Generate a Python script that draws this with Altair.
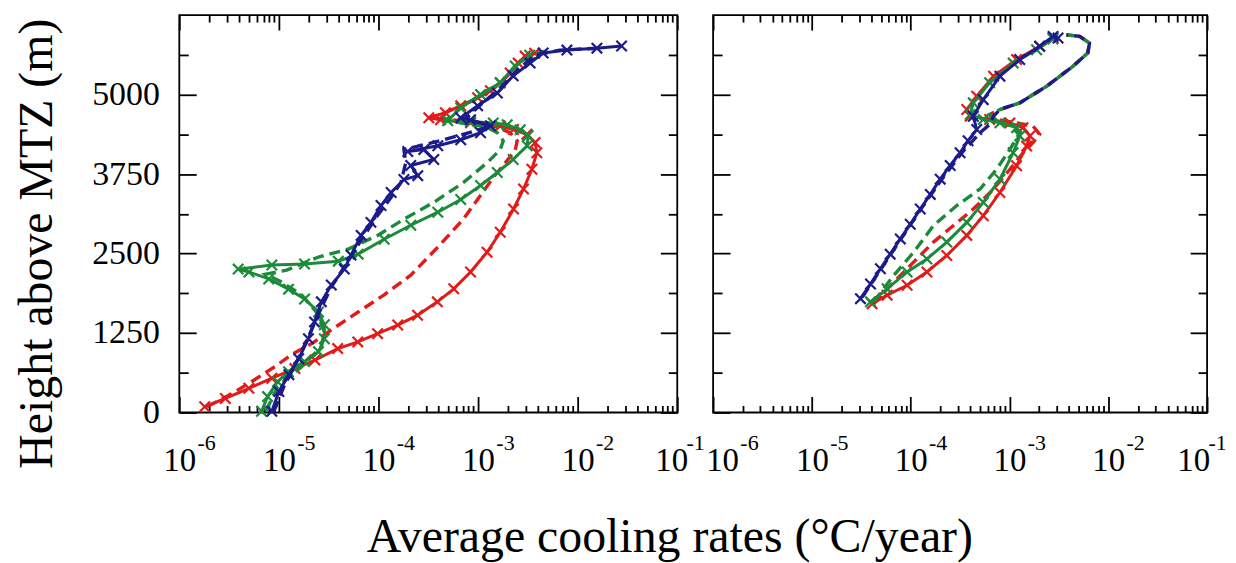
import altair as alt
import pandas as pd

FONT = "Liberation Serif"
SERIES = ["red", "green", "blue"]
COLORS = ["#e31a1a", "#1c8a3a", "#1b1b8c"]

X_DECADES = [1e-6, 1e-5, 1e-4, 1e-3, 1e-2, 1e-1]
X_TICK_BASE = "10"
X_TICK_EXP = ["-6", "-5", "-4", "-3", "-2", "-1"]
Y_TICKS = [0, 1250, 2500, 3750, 5000]
Y_MINOR = [625, 1875, 3125, 4375, 5625]
Y_TITLE = "Height above MTZ (m)"
X_TITLE = "Average cooling rates (°C/year)"

# ---------------- left panel ----------------
L_RED_SOLID_RATE = [1.8e-6, 2.9e-6, 5.0e-6, 8.5e-6, 1.45e-5, 2.3e-5, 3.9e-5, 6.2e-5, 9.8e-5, 1.56e-4, 2.47e-4, 3.9e-4,
                    5.7e-4, 8.4e-4, 1.23e-3, 1.67e-3, 2.27e-3, 2.86e-3, 3.47e-3, 3.89e-3, 3.74e-3, 3.09e-3, 2.27e-3,
                    1.67e-3, 8.4e-4, 4.2e-4, 3.2e-4, 4.7e-4, 6.7e-4, 9.9e-4, 1.33e-3, 1.67e-3, 2.1e-3, 2.53e-3,
                    2.97e-3, 3.7e-3]
L_RED_SOLID_H = [90, 220, 380, 540, 690, 825, 1005, 1110, 1240, 1375, 1530, 1740, 1945, 2210, 2520, 2835, 3200, 3515,
                 3825, 4085, 4245, 4375, 4450, 4505, 4555, 4605, 4635, 4715, 4825, 4950, 5060, 5185, 5340, 5495, 5605,
                 5650]
L_RED_DASHED_RATE = [1.9e-6, 3.4e-6, 5.7e-6, 9.1e-6, 1.34e-5, 2.12e-5, 3.36e-5, 6.25e-5, 1.14e-4, 2.11e-4, 3.94e-4,
                     7.1e-4, 1.06e-3, 1.42e-3, 1.88e-3, 2.36e-3, 2.47e-3, 2.1e-3, 1.49e-3, 8.4e-4, 3.2e-4, 4.7e-4,
                     6.7e-4, 9.9e-4, 1.33e-3, 1.67e-3, 2.1e-3, 2.53e-3, 2.97e-3]
L_RED_DASHED_H = [90, 300, 515, 720, 910, 1080, 1300, 1580, 1850, 2160, 2600, 3040, 3415, 3695, 3930, 4120, 4275, 4400,
                  4495, 4575, 4635, 4715, 4825, 4950, 5060, 5185, 5340, 5495, 5605]
L_GREEN_SOLID_RATE = [6.7e-6, 7.7e-6, 9.7e-6, 1.25e-5, 1.81e-5, 2.5e-5, 2.86e-5, 2.86e-5, 2.5e-5, 1.81e-5, 1.25e-5,
                      7.9e-6, 5.0e-6, 3.9e-6, 8.5e-6, 1.81e-5, 3.95e-5, 6.25e-5, 1.14e-4, 2.11e-4, 3.94e-4, 6.7e-4,
                      1.06e-3, 1.56e-3, 2.25e-3, 3.11e-3, 3.18e-3, 2.65e-3, 1.96e-3, 1.42e-3, 8.4e-4, 4.95e-4, 6.7e-4,
                      1.06e-3, 1.67e-3, 2.36e-3, 3.3e-3]
L_GREEN_SOLID_H = [20, 250, 485, 640, 800, 955, 1160, 1380, 1580, 1785, 1940, 2100, 2210, 2255, 2320, 2335, 2380, 2490,
                   2725, 2945, 3150, 3350, 3570, 3775, 3980, 4195, 4355, 4445, 4525, 4555, 4575, 4590, 4790, 5000, 5185,
                   5450, 5620]
L_GREEN_DASHED_RATE = [7.4e-6, 9.7e-6, 1.69e-5, 2.67e-5, 2.86e-5, 2.38e-5, 1.69e-5, 1.07e-5, 7.4e-6, 1.2e-5, 2.5e-5,
                       4.98e-5, 9.8e-5, 1.8e-4, 3.59e-4, 7.1e-4, 1.24e-3, 1.67e-3, 1.79e-3, 1.56e-3, 1.19e-3, 4.7e-4,
                       6.7e-4, 1.06e-3, 1.67e-3, 2.36e-3, 3.33e-3, 4.7e-3]
L_GREEN_DASHED_H = [20, 405, 720, 1035, 1270, 1580, 1850, 2050, 2175, 2240, 2445, 2570, 2785, 3040, 3305, 3615, 3930,
                    4135, 4275, 4400, 4495, 4590, 4790, 4995, 5185, 5450, 5620, 5685]
L_BLUE_SOLID_RATE = [8.5e-6, 1.0e-5, 1.26e-5, 1.58e-5, 1.98e-5, 2.28e-5, 2.67e-5, 3.36e-5, 4.54e-5, 5.3e-5, 6.7e-5,
                     8.4e-5, 1.06e-4, 1.34e-4, 1.8e-4, 2.48e-4, 2.11e-4, 3.59e-4, 2.85e-4, 1.97e-4, 3.94e-4, 6.7e-4,
                     1.06e-3, 1.33e-3, 8.4e-4, 6.7e-4, 9.9e-4, 1.56e-3, 2.25e-3, 3.33e-3, 4.5e-3, 7.8e-3, 1.56e-2,
                     2.76e-2]
L_BLUE_SOLID_H = [20, 330, 595, 845, 1160, 1425, 1740, 2005, 2255, 2475, 2785, 2990, 3255, 3460, 3665, 3725, 3885, 3980,
                  4135, 4105, 4195, 4290, 4400, 4510, 4605, 4635, 4825, 5025, 5295, 5495, 5655, 5700, 5730, 5765]
L_BLUE_DASHED_RATE = [8.9e-6, 1.12e-5, 1.51e-5, 1.98e-5, 2.55e-5, 3.36e-5, 4.75e-5, 6.7e-5, 9.5e-5, 1.34e-4, 1.68e-4,
                      1.88e-4, 1.8e-4, 4.2e-4, 9.4e-4, 1.33e-3, 7.5e-4, 1.06e-3, 1.67e-3, 2.47e-3, 3.74e-3, 6.6e-3,
                      1.67e-2]
L_BLUE_DASHED_H = [20, 405, 800, 1190, 1580, 1975, 2335, 2710, 3070, 3385, 3615, 3930, 4135, 4275, 4430, 4510, 4620,
                   4840, 5105, 5385, 5620, 5700, 5730]

# ---------------- right panel ----------------
R_RED_SOLID_RATE = [4.07e-5, 5.77e-5, 9.2e-5, 1.46e-4, 2.32e-4, 3.7e-4, 5.43e-4, 8.0e-4, 1.18e-3, 1.49e-3, 1.61e-3,
                    1.37e-3, 1.01e-3, 6.3e-4, 4.0e-4, 3.7e-4, 4.66e-4, 6.9e-4, 1.18e-3, 2.02e-3, 2.76e-3]
R_RED_SOLID_H = [1710, 1845, 2000, 2210, 2470, 2785, 3095, 3460, 3880, 4190, 4350, 4480, 4555, 4610, 4660, 4765, 4975,
                 5290, 5550, 5760, 5890]
R_RED_DASHED_RATE = [4.23e-5, 6.73e-5, 1.07e-4, 1.70e-4, 2.71e-4, 4.3e-4, 6.9e-4, 1.01e-3, 1.37e-3, 1.73e-3, 2.02e-3,
                     1.73e-3, 1.18e-3, 7.4e-4, 6.3e-4, 8.0e-4, 1.27e-3, 2.37e-3, 4.39e-3, 6.2e-3, 6.46e-3, 5.13e-3,
                     3.77e-3]
R_RED_DASHED_H = [1710, 2050, 2365, 2680, 2940, 3200, 3515, 3825, 4085, 4245, 4375, 4505, 4555, 4610, 4685, 4765, 4870,
                  5130, 5445, 5655, 5810, 5915, 5940]
R_GREEN_SOLID_RATE = [3.92e-5, 5.77e-5, 9.2e-5, 1.46e-4, 2.32e-4, 3.7e-4, 5.43e-4, 8.0e-4, 1.09e-3, 1.27e-3, 1.18e-3,
                      8.0e-4, 5.43e-4, 4.0e-4, 4.3e-4, 6.3e-4, 1.09e-3, 1.88e-3, 2.76e-3]
R_GREEN_SOLID_H = [1740, 1945, 2210, 2415, 2680, 2990, 3305, 3670, 4085, 4350, 4480, 4555, 4610, 4685, 4870, 5185, 5495,
                   5705, 5875]
R_GREEN_DASHED_RATE = [4.23e-5, 6.73e-5, 1.07e-4, 1.70e-4, 2.93e-4, 5.04e-4, 7.4e-4, 1.01e-3, 1.27e-3, 1.09e-3, 6.9e-4,
                       6.3e-4, 8.0e-4, 1.27e-3, 2.37e-3, 4.39e-3, 6.2e-3, 6.46e-3, 5.13e-3, 3.77e-3]
R_GREEN_DASHED_H = [1740, 2155, 2520, 2940, 3255, 3515, 3825, 4140, 4400, 4505, 4585, 4685, 4765, 4870, 5130, 5445,
                    5655, 5810, 5915, 5940]
R_BLUE_SOLID_RATE = [3.1e-5, 3.92e-5, 4.94e-5, 6.2e-5, 7.85e-5, 9.9e-5, 1.25e-4, 1.58e-4, 1.99e-4, 2.51e-4, 3.16e-4,
                     3.81e-4, 4.66e-4, 4.3e-4, 5.43e-4, 8.0e-4, 1.27e-3, 2.02e-3, 2.76e-3, 3.1e-3]
R_BLUE_SOLID_H = [1790, 2020, 2260, 2490, 2730, 2960, 3200, 3430, 3670, 3885, 4085, 4275, 4450, 4660, 4920, 5290, 5550,
                  5760, 5915, 5890]
R_BLUE_DASHED_RATE = [3.23e-5, 5.14e-5, 8.17e-5, 1.3e-4, 2.07e-4, 3.29e-4, 5.04e-4, 6.3e-4, 6.9e-4, 8.0e-4, 1.27e-3,
                      2.37e-3, 4.39e-3, 6.2e-3, 6.46e-3, 5.13e-3, 3.77e-3]
R_BLUE_DASHED_H = [1815, 2285, 2755, 3225, 3670, 4085, 4400, 4530, 4660, 4765, 4870, 5130, 5445, 5655, 5810, 5915, 5940]

rows = []


def add(panel, series, style, rates, heights):
    for i, (r, h) in enumerate(zip(rates, heights)):
        rows.append(dict(panel=panel, series=series, style=style, i=i, rate=r, h=h))


add("L", "red", "solid", L_RED_SOLID_RATE, L_RED_SOLID_H)
add("L", "red", "dashed", L_RED_DASHED_RATE, L_RED_DASHED_H)
add("L", "green", "solid", L_GREEN_SOLID_RATE, L_GREEN_SOLID_H)
add("L", "green", "dashed", L_GREEN_DASHED_RATE, L_GREEN_DASHED_H)
add("L", "blue", "solid", L_BLUE_SOLID_RATE, L_BLUE_SOLID_H)
add("L", "blue", "dashed", L_BLUE_DASHED_RATE, L_BLUE_DASHED_H)
add("R", "red", "solid", R_RED_SOLID_RATE, R_RED_SOLID_H)
add("R", "red", "dashed", R_RED_DASHED_RATE, R_RED_DASHED_H)
add("R", "green", "solid", R_GREEN_SOLID_RATE, R_GREEN_SOLID_H)
add("R", "green", "dashed", R_GREEN_DASHED_RATE, R_GREEN_DASHED_H)
add("R", "blue", "solid", R_BLUE_SOLID_RATE, R_BLUE_SOLID_H)
add("R", "blue", "dashed", R_BLUE_DASHED_RATE, R_BLUE_DASHED_H)
df = pd.DataFrame(rows)

X_MINOR = [k * d for d in X_DECADES[:-1] for k in range(2, 10)]
EXP_EXPR = "[" + ",".join("'%s'" % e for e in X_TICK_EXP) + "][round(log(datum.value)/LN10)+6]"

XS = alt.Scale(type="log", domain=[1e-6, 1e-1], nice=False)
YS = alt.Scale(domain=[0, 6250], nice=False, zero=False)


def ax(**kw):
    base = dict(grid=False, domain=False, title=None, tickColor="black", tickWidth=1.8,
                labelColor="black", labelFont=FONT)
    base.update(kw)
    return alt.Axis(**base)


def cond_offset(tests, normal):
    return {"condition": [{"test": t, "value": v} for t, v in tests], "value": normal}


def x_axes(panel):
    if panel == "L":
        base_off = cond_offset([("datum.value > 0.05", -6)], 0)
        exp_off = cond_offset([("datum.value > 0.05", 18)], 27)
    else:
        base_off = cond_offset([("datum.value < 2e-6", 9), ("datum.value > 0.05", -14)], 0)
        exp_off = cond_offset([("datum.value < 2e-6", 36), ("datum.value > 0.05", 10)], 27)
    return [
        ax(orient="bottom", values=X_DECADES, ticks=False, labelExpr="'%s'" % X_TICK_BASE, labelFontSize=33,
           labelPadding=32, labelOffset=base_off, labelFlush=False, labelOverlap=False),
        ax(orient="bottom", values=X_DECADES, ticks=False, labelExpr=EXP_EXPR, labelFontSize=22,
           labelPadding=20, labelOffset=exp_off, labelFlush=False, labelOverlap=False),
        ax(orient="bottom", values=X_DECADES, labels=False, tickSize=16, offset=-16),
        ax(orient="bottom", values=X_MINOR, labels=False, tickSize=7, offset=-7),
        ax(orient="top", values=X_DECADES, labels=False, tickSize=15, offset=-15),
        ax(orient="top", values=X_MINOR, labels=False, tickSize=7, offset=-7),
    ]


def y_axes(with_labels):
    out = []
    if with_labels:
        out.append(ax(orient="left", values=Y_TICKS, ticks=False, format="d", labelFontSize=34, labelPadding=20,
                      title=Y_TITLE, titleFont=FONT, titleFontSize=48, titleFontWeight="normal",
                      titleColor="black", titlePadding=30, titleY=229))
    out += [
        ax(orient="left", values=Y_TICKS, labels=False, tickSize=17, offset=-17),
        ax(orient="left", values=Y_MINOR, labels=False, tickSize=9, offset=-9),
        ax(orient="right", values=Y_TICKS, labels=False, tickSize=17, offset=-17),
        ax(orient="right", values=Y_MINOR, labels=False, tickSize=9, offset=-9),
    ]
    return out


def panel_chart(panel, with_labels, width):
    d = df[df["panel"] == panel]
    layers = []
    xa = x_axes(panel)
    ya = y_axes(with_labels)
    n = max(len(xa), len(ya))
    for k in range(n):
        xk = xa[k] if k < len(xa) else None
        yk = ya[k] if k < len(ya) else None
        layers.append(
            alt.Chart(d).mark_point(opacity=0).encode(
                x=alt.X("rate:Q", scale=XS, axis=xk),
                y=alt.Y("h:Q", scale=YS, axis=yk),
            )
        )
    for s, col in zip(SERIES, COLORS):
        solid = d[(d["series"] == s) & (d["style"] == "solid")]
        dashed = d[(d["series"] == s) & (d["style"] == "dashed")]
        enc = dict(
            x=alt.X("rate:Q", scale=XS, axis=None),
            y=alt.Y("h:Q", scale=YS, axis=None),
            order=alt.Order("i:Q"),
        )
        layers.append(alt.Chart(dashed).mark_line(color=col, strokeWidth=3.4, strokeDash=[11, 6]).encode(**enc))
        layers.append(alt.Chart(solid).mark_line(color=col, strokeWidth=3.0).encode(**enc))
        layers.append(alt.Chart(solid).mark_point(shape="M-1,-1L1,1M-1,1L1,-1", filled=False, size=110,
                                                   strokeWidth=2.2, color=col, opacity=1).encode(
            x=alt.X("rate:Q", scale=XS, axis=None), y=alt.Y("h:Q", scale=YS, axis=None)))
    return alt.layer(*layers).resolve_axis(x="independent", y="independent").properties(width=width, height=399)


left = panel_chart("L", True, 500)
right = panel_chart("R", False, 496)

chart = alt.hconcat(left, right, spacing=36, bounds="flush").properties(
    title=alt.TitleParams(text=X_TITLE, orient="bottom", anchor="middle", font=FONT, fontSize=48,
                          fontWeight="normal", color="black", offset=36, dx=50),
    padding={"left": 5, "top": 4, "right": 0, "bottom": 0},
).configure_view(stroke="black", strokeWidth=1.8)

chart.save("out.html", embed_options={"renderer": "svg", "actions": False})
